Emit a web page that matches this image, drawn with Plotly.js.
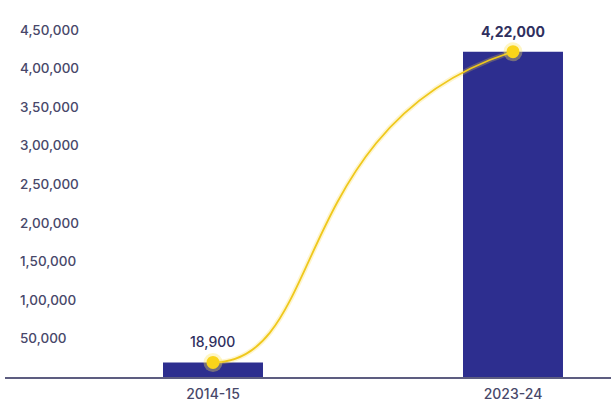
<!DOCTYPE html>
<html>
<head>
<meta charset="utf-8">
<script src="https://cdn.plot.ly/plotly-3.0.1.min.js"></script>
<style>
  html, body { margin: 0; padding: 0; background: #ffffff; }
  #chart { width: 611px; height: 404px; }
</style>
</head>
<body>
<div id="chart"></div>
<script>
// ---- data ----
const categories = ['2014-15', '2023-24'];
const values = [18900, 422000];
const yTickValues = [50000, 100000, 150000, 200000, 250000, 300000, 350000, 400000, 450000];

// Indian digit grouping (e.g. 4,22,000)
function inr(n) {
  const s = String(Math.round(n));
  if (s.length <= 3) return s;
  const last3 = s.slice(-3);
  const rest = s.slice(0, -3).replace(/\B(?=(\d{2})+(?!\d))/g, ',');
  return rest + ',' + last3;
}

const xIdx = categories.map((c, i) => i);

const FONT = 'Inter, "DejaVu Sans", sans-serif';
const barColor = '#2d2e8f';
const yellow = '#efc81c';

// S-curve connecting the two data points (computed from the data values)
const x0 = xIdx[0], y0 = values[0], x1 = xIdx[1], y1 = values[1];
const dx = x1 - x0, dy = y1 - y0;
const c1x = x0 + 0.38 * dx, c1y = y0;
const c2x = x0 + 0.25 * dx, c2y = y0 + 0.77 * dy;
const curvePath = `M ${x0},${y0} C ${c1x},${c1y} ${c2x},${c2y} ${x1},${y1}`;

const shapes = [
  { type: 'path', xref: 'x', yref: 'y', path: curvePath, layer: 'above',
    line: { color: 'rgba(250,215,60,0.25)', width: 5 } },
  { type: 'path', xref: 'x', yref: 'y', path: curvePath, layer: 'above',
    line: { color: yellow, width: 1.8 } }
];
xIdx.forEach((xi, i) => {
  shapes.push({ type: 'circle', xref: 'x', yref: 'y', xsizemode: 'pixel', ysizemode: 'pixel',
    xanchor: xi, yanchor: values[i], x0: -9.5, x1: 9.5, y0: -9.5, y1: 9.5, layer: 'above',
    fillcolor: 'rgba(252,228,90,0.35)', line: { width: 0 } });
  shapes.push({ type: 'circle', xref: 'x', yref: 'y', xsizemode: 'pixel', ysizemode: 'pixel',
    xanchor: xi, yanchor: values[i], x0: -6.5, x1: 6.5, y0: -6.5, y1: 6.5, layer: 'above',
    fillcolor: '#f9d41a', line: { width: 0 } });
});

// value labels above each bar
const annotations = xIdx.map((xi, i) => ({
  x: xi, y: values[i], xref: 'x', yref: 'y',
  text: i === values.length - 1 ? '<b>' + inr(values[i]) + '</b>' : inr(values[i]),
  showarrow: false, yanchor: 'bottom', xanchor: 'center', yshift: 10,
  font: { family: FONT, size: 14, color: '#2f2f5e', weight: i === values.length - 1 ? 700 : 500 }
}));

const traces = [{
  type: 'bar',
  x: xIdx,
  y: values,
  marker: { color: barColor },
  hoverinfo: 'skip'
}];

const layout = {
  width: 611,
  height: 404,
  margin: { l: 5, r: 0, t: 7, b: 27 },
  paper_bgcolor: '#ffffff',
  plot_bgcolor: '#ffffff',
  showlegend: false,
  bargap: 0.6667,
  font: { family: FONT, color: '#4a4a68' },
  xaxis: {
    range: [-0.6933, 1.3267],
    tickvals: xIdx,
    ticktext: categories,
    showgrid: false,
    zeroline: false,
    showline: true,
    linecolor: '#5d5d80',
    linewidth: 1.5,
    ticks: '',
    ticklabelstandoff: 4,
    tickfont: { family: FONT, size: 14, color: '#48486a', weight: 500 },
    fixedrange: true
  },
  yaxis: {
    range: [0, 480000],
    tickvals: yTickValues,
    ticktext: yTickValues.map(inr),
    ticklabelposition: 'inside',
    ticklabelstandoff: 12,
    showgrid: false,
    zeroline: false,
    showline: false,
    ticks: '',
    tickfont: { family: FONT, size: 13.5, color: '#48486a', weight: 500 },
    fixedrange: true
  },
  annotations: annotations,
  shapes: shapes
};

Plotly.newPlot('chart', traces, layout, { displayModeBar: false, staticPlot: true });
</script>
</body>
</html>
